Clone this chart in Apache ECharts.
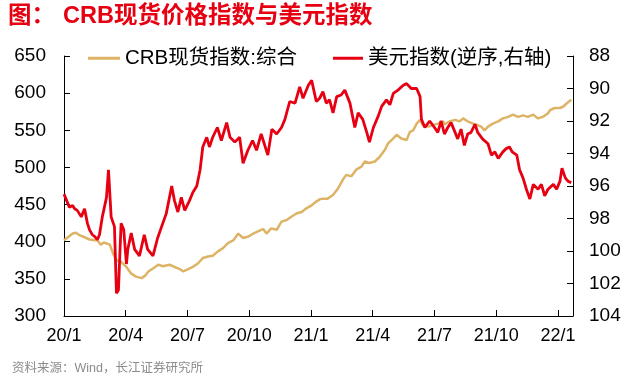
<!DOCTYPE html>
<html><head><meta charset="utf-8">
<script src="https://cdn.jsdelivr.net/npm/echarts@6/dist/echarts.min.js"></script>
<style>html,body{margin:0;padding:0;background:#fff}#c{width:629px;height:378px}</style>
</head><body><div id="c"></div>
<script>
const xTickLabels = ['20/1','20/4','20/7','20/10','21/1','21/4','21/7','21/10','22/1'];

const crbDates = ['2020-01-01','2020-01-07','2020-01-14','2020-01-19','2020-01-24','2020-02-01','2020-02-08','2020-02-15','2020-02-19','2020-02-24','2020-02-28',
'2020-03-08','2020-03-13','2020-03-18','2020-03-25','2020-04-02','2020-04-09','2020-04-16','2020-04-24','2020-04-29','2020-05-04','2020-05-11','2020-05-19','2020-05-26',
'2020-06-05','2020-06-12','2020-06-20','2020-06-25','2020-07-02','2020-07-09','2020-07-17','2020-07-24','2020-08-01','2020-08-08','2020-08-16','2020-08-23','2020-08-31',
'2020-09-08','2020-09-15','2020-09-22','2020-09-30','2020-10-07','2020-10-14','2020-10-22','2020-10-27','2020-11-03','2020-11-11','2020-11-18','2020-11-25',
'2020-12-03','2020-12-10','2020-12-18','2020-12-25','2021-01-02','2021-01-09','2021-01-14','2021-01-19','2021-01-26','2021-02-03','2021-02-10','2021-02-16','2021-02-21','2021-02-28',
'2021-03-07','2021-03-15','2021-03-20','2021-03-27','2021-04-04','2021-04-11','2021-04-19','2021-04-23','2021-05-01','2021-05-06','2021-05-13','2021-05-21','2021-05-26','2021-05-31',
'2021-06-05','2021-06-10','2021-06-14','2021-06-22','2021-06-29','2021-07-06','2021-07-14','2021-07-16','2021-07-24','2021-08-01','2021-08-08','2021-08-13','2021-08-20','2021-08-28',
'2021-09-04','2021-09-09','2021-09-14','2021-09-19','2021-09-26','2021-10-04','2021-10-11','2021-10-19','2021-10-26','2021-11-03','2021-11-10','2021-11-17','2021-11-25',
'2021-12-02','2021-12-09','2021-12-17','2021-12-20','2021-12-27','2022-01-04','2022-01-09','2022-01-14','2022-01-16','2022-01-21'];
const crbValues = [402,406,411,412,409,406,403,402,402,396,399,
396,384,375,373,366,357,353,351,354,360,364,369,367,
369,366,363,360,363,366,371,378,380,381,387,391,398,
402,411,405,407,411,414,417,411,418,416,427,429,
434,438,440,445,449,454,457,458,458,463,472,483,490,488,
497,501,508,506,508,514,524,532,539,544,539,537,548,550,
559,564,557,555,557,559,562,558,562,564,562,566,562,559,
557,555,550,555,559,562,566,568,571,568,570,568,571,
566,568,573,577,580,580,582,586,588,591];

const usdDates = ['2020-01-01','2020-01-05','2020-01-09','2020-01-14','2020-01-17','2020-01-21','2020-01-24','2020-01-27','2020-02-01','2020-02-05','2020-02-08','2020-02-12','2020-02-15','2020-02-19','2020-02-22','2020-02-26',
'2020-03-03','2020-03-06','2020-03-10','2020-03-15','2020-03-18','2020-03-21','2020-03-25','2020-03-29','2020-04-02','2020-04-04','2020-04-09','2020-04-14','2020-04-21','2020-04-28',
'2020-05-03','2020-05-11','2020-05-18','2020-05-24','2020-05-31','2020-06-08','2020-06-12','2020-06-17','2020-06-22','2020-06-27','2020-07-04','2020-07-09','2020-07-15','2020-07-20','2020-07-24','2020-07-30',
'2020-08-03','2020-08-08','2020-08-15','2020-08-21','2020-08-29','2020-09-03','2020-09-10','2020-09-17','2020-09-22','2020-09-29','2020-10-06','2020-10-12','2020-10-19','2020-10-29',
'2020-11-04','2020-11-11','2020-11-18','2020-11-23','2020-11-30','2020-12-08','2020-12-15','2020-12-20','2020-12-28','2021-01-02','2021-01-09','2021-01-14','2021-01-19','2021-01-24','2021-01-29',
'2021-02-03','2021-02-08','2021-02-14','2021-02-19','2021-02-26','2021-03-05','2021-03-10','2021-03-17','2021-03-23','2021-03-27','2021-04-02','2021-04-09','2021-04-14','2021-04-21','2021-04-26',
'2021-05-01','2021-05-08','2021-05-16','2021-05-21','2021-05-28','2021-06-05','2021-06-10','2021-06-12','2021-06-17','2021-06-24','2021-07-01','2021-07-06','2021-07-11','2021-07-16','2021-07-21','2021-07-26',
'2021-08-01','2021-08-05','2021-08-10','2021-08-15','2021-08-20','2021-08-25','2021-08-31','2021-09-04','2021-09-11','2021-09-19','2021-09-24','2021-09-29','2021-10-04','2021-10-11','2021-10-16','2021-10-21','2021-10-25',
'2021-11-01','2021-11-05','2021-11-10','2021-11-15','2021-11-20','2021-11-25','2021-12-02','2021-12-07','2021-12-12','2021-12-17','2021-12-25','2021-12-30','2022-01-04','2022-01-07','2022-01-12','2022-01-16','2022-01-21'];
const usdValues = [96.5,96.9,97.3,97.2,97.4,97.5,97.6,97.9,97.4,98.3,98.7,99.0,99.1,99.3,99.0,97.9,
96.7,95.0,97.9,98.5,102.6,102.4,98.3,98.7,100.8,99.9,98.9,99.9,100.3,99.0,
99.9,100.3,99.2,98.5,97.7,96.0,96.9,97.6,96.7,97.5,96.9,96.4,96.0,95.0,93.6,93.0,
93.6,93.0,92.4,93.2,92.1,93.0,93.3,93.0,94.6,93.8,93.2,93.8,92.8,94.1,
92.5,92.8,92.4,91.9,90.8,90.9,89.9,90.6,89.8,89.5,90.8,90.6,90.2,90.9,90.7,
91.5,90.5,90.4,90.1,90.9,92.4,91.5,91.9,92.7,93.3,92.4,91.7,91.1,90.7,91.0,
90.3,90.1,89.8,89.7,90.0,90.0,90.5,91.9,92.4,92.0,92.4,92.7,92.0,92.8,92.4,92.1,
92.7,93.1,92.5,93.5,92.8,92.7,92.2,92.7,93.1,93.4,94.1,93.9,94.3,93.9,93.7,93.6,93.9,
94.1,95.0,95.5,96.2,96.8,95.9,96.2,95.9,96.6,96.2,95.9,96.2,95.7,94.9,95.5,95.7,95.8];

function monthPos(s){
  const p = s.split('-').map(Number);
  const dim = new Date(p[0], p[1], 0).getDate();
  return (p[0]-2020)*12 + (p[1]-1) + (p[2]-1)/dim;
}
const crbData = crbDates.map((d,i)=>[monthPos(d), crbValues[i]]);
const usdData = usdDates.map((d,i)=>[monthPos(d), usdValues[i]]);

const FF = "'Liberation Sans','Noto Sans CJK SC',sans-serif";
const chart = echarts.init(document.getElementById('c'), null, {renderer:'canvas'});
const axisCommon = {
  axisLine:{show:true, lineStyle:{color:'#000', width:1}},
  axisTick:{show:true, inside:true, length:6, lineStyle:{color:'#000'}},
  splitLine:{show:false},
};
chart.setOption({
  animation:false,
  backgroundColor:'#fff',
  grid:{left:64, right:56, top:56, bottom:62, containLabel:false},
  legend:[
    {data:['CRB现货指数:综合'], left:88, top:48, padding:0, icon:'rect', itemWidth:32, itemHeight:3, itemGap:0,
     textStyle:{fontSize:20.5, color:'#000', fontFamily:FF}},
    {data:['美元指数(逆序,右轴)'], left:333, top:48, padding:0, icon:'rect', itemWidth:30, itemHeight:3, itemGap:0,
     textStyle:{fontSize:20.5, color:'#000', fontFamily:FF}}
  ],
  xAxis:Object.assign({type:'value', min:0, max:24.73, interval:3,
    axisLabel:{fontSize:18, color:'#000', fontFamily:FF, margin:11, showMaxLabel:false,
      formatter:function(v){ const k=Math.round(v/3); return (Math.abs(v-k*3)<1e-6 && k<xTickLabels.length)? xTickLabels[k] : ''; }}
  }, axisCommon),
  yAxis:[
    Object.assign({type:'value', min:300, max:650, interval:50,
      axisLabel:{fontSize:19, color:'#000', fontFamily:FF, margin:18}}, axisCommon),
    Object.assign({type:'value', min:88, max:104, interval:2, inverse:true, position:'right',
      axisLabel:{fontSize:19, color:'#000', fontFamily:FF, margin:16}}, axisCommon)
  ],
  series:[
    {name:'CRB现货指数:综合', type:'line', yAxisIndex:0, data:crbData, symbol:'none', color:'#DDB466',
     lineStyle:{width:2.5, color:'#DDB466'}, z:2},
    {name:'美元指数(逆序,右轴)', type:'line', yAxisIndex:1, data:usdData, symbol:'none', color:'#E60012',
     lineStyle:{width:2.8, color:'#E60012'}, z:3}
  ],
  graphic:[
    {type:'text', left:8, top:5, style:{text:'图：', fill:'#E60012', font:"bold 23.5px "+FF}},
    {type:'text', left:63, top:5, style:{text:'CRB现货价格指数与美元指数', fill:'#E60012', font:"bold 23.5px "+FF}},
    {type:'text', left:12, top:362, style:{text:'资料来源：Wind，长江证券研究所', fill:'#8c8c8c', font:"12.5px "+FF}}
  ]
});
</script></body></html>
